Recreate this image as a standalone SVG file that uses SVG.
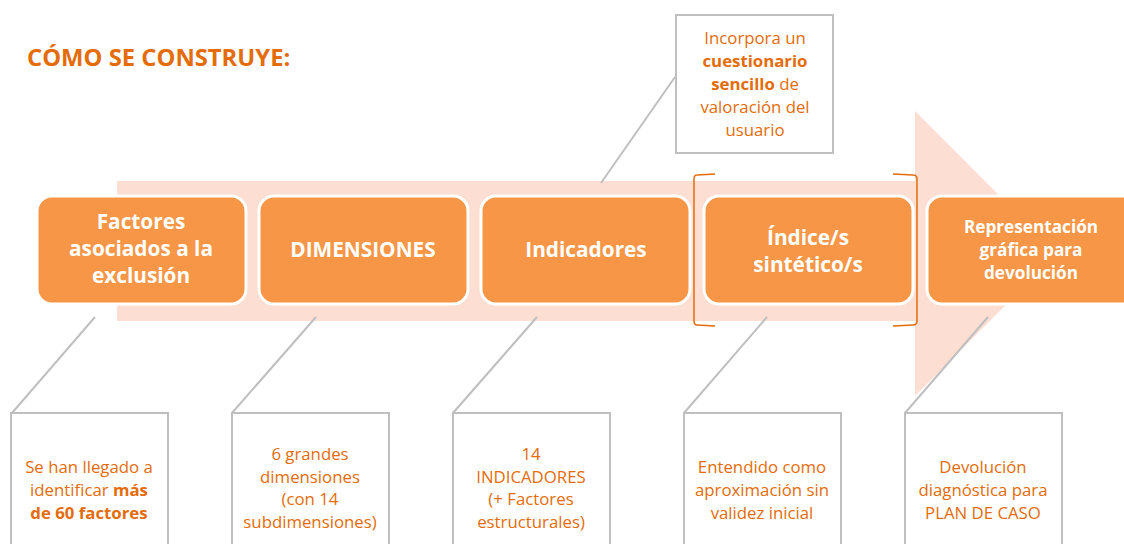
<svg xmlns="http://www.w3.org/2000/svg" width="1124" height="544" viewBox="0 0 1124 544">
<style>
.box{fill:#F79646;stroke:#FFFFFF;stroke-width:3}
.bt{font-family:"Open Sans",Lato,sans-serif;font-weight:bold;fill:#FFFFFF;text-anchor:middle}
.call{fill:#FFFFFF;stroke:#BFBFBF;stroke-width:2}
.ct{font-family:"Open Sans",Lato,sans-serif;font-size:16.8px;fill:#E46C0A;text-anchor:middle}
.b{font-weight:bold}
.ln{stroke:#BFBFBF;stroke-width:2;fill:none}
.br{stroke:#E46C0A;stroke-width:1.5;fill:none}
</style>
<rect width="1124" height="544" fill="#FFFFFF"/>
<text x="27" y="66" font-family="'Open Sans',Lato,sans-serif" font-weight="bold" font-size="23.8" fill="#E46C0A">CÓMO SE CONSTRUYE:</text>
<polygon id="arrow" points="117,181 915,181 915,111 1057,253.5 915,396 915,321 117,321" fill="#FCDED2"/>
<g id="connectors">
<line class="ln" x1="675" y1="77" x2="601" y2="183"/>
<line class="ln" x1="95" y1="317" x2="12" y2="413"/>
<line class="ln" x1="316" y1="317" x2="232" y2="413"/>
<line class="ln" x1="537" y1="317" x2="453" y2="413"/>
<line class="ln" x1="767" y1="317" x2="684" y2="413"/>
<line class="ln" x1="988" y1="317" x2="905" y2="413"/>
</g>
<g id="bracket">
<path class="br" d="M715,174 L697,175 Q694,175 694,179 L694,321 Q694,325 697,325 L715,326"/>
<path class="br" d="M893,174 L913,175 Q917,175 917,179 L917,321 Q917,325 913,325 L893,326"/>
</g>
<g id="n1"><rect class="box" x="37" y="196" width="209" height="108" rx="15"/>
<text class="bt" font-size="20.8" x="141" y="229">Factores</text>
<text class="bt" font-size="20.8" x="141" y="256">asociados a la</text>
<text class="bt" font-size="20.8" x="141" y="283">exclusión</text></g>
<g id="n2"><rect class="box" x="259" y="196" width="209" height="108" rx="15"/>
<text class="bt" font-size="20.8" x="363" y="257">DIMENSIONES</text></g>
<g id="n3"><rect class="box" x="481" y="196" width="209" height="108" rx="15"/>
<text class="bt" font-size="20.8" x="586" y="257">Indicadores</text></g>
<g id="n4"><rect class="box" x="704" y="196" width="209" height="108" rx="15"/>
<text class="bt" font-size="20.8" x="808" y="245">Índice/s</text>
<text class="bt" font-size="20.8" x="808" y="272">sintético/s</text></g>
<g id="n5"><rect class="box" x="927" y="196" width="215" height="108" rx="15"/>
<text class="bt" font-size="17.2" x="1031" y="233">Representación</text>
<text class="bt" font-size="17.2" x="1031" y="256">gráfica para</text>
<text class="bt" font-size="17.2" x="1031" y="279">devolución</text></g>
<g id="c0"><rect class="call" x="676" y="15" width="157" height="138"/>
<text class="ct" x="755" y="44">Incorpora un</text>
<text class="ct b" x="755" y="67">cuestionario</text>
<text class="ct" x="755" y="90"><tspan class="b">sencillo</tspan> de</text>
<text class="ct" x="755" y="113">valoración del</text>
<text class="ct" x="755" y="136">usuario</text></g>
<g id="c1"><rect class="call" x="11" y="413" width="157" height="140"/>
<text class="ct" x="89" y="473">Se han llegado a</text>
<text class="ct" x="89" y="496">identificar <tspan class="b">más</tspan></text>
<text class="ct b" x="89" y="519">de 60 factores</text></g>
<g id="c2"><rect class="call" x="232" y="413" width="157" height="140"/>
<text class="ct" x="310" y="460">6 grandes</text>
<text class="ct" x="310" y="483">dimensiones</text>
<text class="ct" x="310" y="505">(con 14</text>
<text class="ct" x="310" y="528">subdimensiones)</text></g>
<g id="c3"><rect class="call" x="453" y="413" width="157" height="140"/>
<text class="ct" x="531" y="460">14</text>
<text class="ct" x="531" y="483">INDICADORES</text>
<text class="ct" x="531" y="505">(+ Factores</text>
<text class="ct" x="531" y="528">estructurales)</text></g>
<g id="c4"><rect class="call" x="684" y="413" width="157" height="140"/>
<text class="ct" x="762" y="473">Entendido como</text>
<text class="ct" x="762" y="496">aproximación sin</text>
<text class="ct" x="762" y="519">validez inicial</text></g>
<g id="c5"><rect class="call" x="905" y="413" width="157" height="140"/>
<text class="ct" x="983" y="473">Devolución</text>
<text class="ct" x="983" y="496">diagnóstica para</text>
<text class="ct" x="983" y="519">PLAN DE CASO</text></g>
</svg>
